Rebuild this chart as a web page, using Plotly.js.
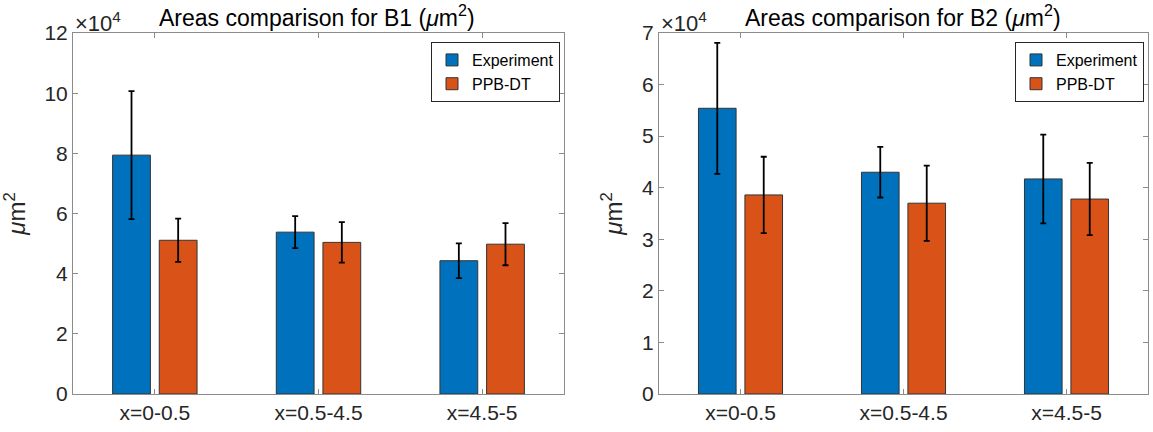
<!DOCTYPE html>
<html>
<head>
<meta charset="utf-8">
<script src="https://cdn.plot.ly/plotly-3.0.1.min.js"></script>
<style>html,body{margin:0;padding:0;background:#fff;}#chart{width:1153px;height:432px;}</style>
</head>
<body>
<div id="chart"></div>
<script>
// Values in units of 10^4 µm²
var categories = ["x=0-0.5", "x=0.5-4.5", "x=4.5-5"];
var seriesNames = ["Experiment", "PPB-DT"];

var b1Experiment = [7.94, 5.38, 4.43];
var b1ExperimentErr = [2.13, 0.53, 0.58];
var b1PPB = [5.11, 5.04, 4.98];
var b1PPBErr = [0.72, 0.67, 0.70];

var b2Experiment = [5.54, 4.30, 4.17];
var b2ExperimentErr = [1.27, 0.49, 0.86];
var b2PPB = [3.86, 3.70, 3.78];
var b2PPBErr = [0.74, 0.73, 0.70];

var b1Ticks = [0, 2, 4, 6, 8, 10, 12];
var b2Ticks = [0, 1, 2, 3, 4, 5, 6, 7];

var blue = "#0072BD", orange = "#D95319";
var fontFam = "Liberation Sans, Arial, Helvetica, sans-serif";
var txt = "#262626";

function barTrace(name, y, err, color, xa, ya, leg) {
  return {
    type: "bar", name: name, x: categories, y: y,
    xaxis: xa, yaxis: ya, legend: leg,
    marker: {color: color, line: {color: "#333333", width: 1}},
    error_y: {type: "data", array: err, visible: true, color: "#000000", thickness: 1.8, width: 3}
  };
}

var data = [
  barTrace(seriesNames[0], b1Experiment, b1ExperimentErr, blue, "x", "y", "legend"),
  barTrace(seriesNames[1], b1PPB, b1PPBErr, orange, "x", "y", "legend"),
  barTrace(seriesNames[0], b2Experiment, b2ExperimentErr, blue, "x2", "y2", "legend2"),
  barTrace(seriesNames[1], b2PPB, b2PPBErr, orange, "x2", "y2", "legend2")
];

function xAxis(domain, anchor) {
  return {
    domain: domain, anchor: anchor, type: "category", range: [-0.5, 2.5],
    showline: true, linecolor: "#8c8c8c", linewidth: 1, mirror: "ticks",
    ticks: "inside", ticklen: 5, tickcolor: "#8c8c8c",
    tickfont: {family: fontFam, size: 21, color: txt},
    showgrid: false, zeroline: false, automargin: false, fixedrange: true
  };
}
function yAxis(anchor, ticks, range) {
  return {
    domain: [0, 1], anchor: anchor, range: range,
    tickvals: ticks, ticktext: ticks.map(String),
    showline: true, linecolor: "#8c8c8c", linewidth: 1, mirror: "ticks",
    ticks: "inside", ticklen: 5, tickcolor: "#8c8c8c",
    tickfont: {family: fontFam, size: 21, color: txt},
    showgrid: false, zeroline: false, automargin: false, fixedrange: true,
    title: {text: "<i>μ</i>m<sup>2</sup>", font: {family: fontFam, size: 24, color: txt}, standoff: 12}
  };
}

var layout = {
  width: 1153, height: 432,
  margin: {l: 0, r: 0, t: 33, b: 38},
  paper_bgcolor: "#ffffff", plot_bgcolor: "#ffffff",
  barmode: "group", bargap: 0.43, bargroupgap: 0.19,
  showlegend: true,
  xaxis: xAxis([73/1153, 564/1153], "y"),
  yaxis: yAxis("x", b1Ticks, [0, 12]),
  xaxis2: xAxis([659/1153, 1148/1153], "y2"),
  yaxis2: yAxis("x2", b2Ticks, [0, 7]),
  legend: {x: 431/1153, y: 0.975, xanchor: "left", yanchor: "top", bgcolor: "#ffffff",
           bordercolor: "#262626", borderwidth: 1, font: {family: fontFam, size: 16, color: "#000"},
           tracegroupgap: 0},
  legend2: {x: 1015/1153, y: 0.975, xanchor: "left", yanchor: "top", bgcolor: "#ffffff",
           bordercolor: "#262626", borderwidth: 1, font: {family: fontFam, size: 16, color: "#000"},
           tracegroupgap: 0},
  annotations: [
    {text: "Areas comparison for B1 (<i>μ</i>m<sup>2</sup>)", xref: "paper", yref: "paper",
     x: 317/1153, y: 1, xanchor: "center", yanchor: "bottom", yshift: 0, showarrow: false,
     font: {family: fontFam, size: 23, color: "#000"}},
    {text: "Areas comparison for B2 (<i>μ</i>m<sup>2</sup>)", xref: "paper", yref: "paper",
     x: 903/1153, y: 1, xanchor: "center", yanchor: "bottom", yshift: 0, showarrow: false,
     font: {family: fontFam, size: 23, color: "#000"}},
    {text: "×10<sup>4</sup>", xref: "paper", yref: "paper", x: 73/1153, y: 1,
     xanchor: "left", yanchor: "bottom", yshift: -5, showarrow: false,
     font: {family: fontFam, size: 22, color: txt}},
    {text: "×10<sup>4</sup>", xref: "paper", yref: "paper", x: 659/1153, y: 1,
     xanchor: "left", yanchor: "bottom", yshift: -5, showarrow: false,
     font: {family: fontFam, size: 22, color: txt}}
  ]
};

Plotly.newPlot("chart", data, layout, {displayModeBar: false, staticPlot: true});
</script>
</body>
</html>
